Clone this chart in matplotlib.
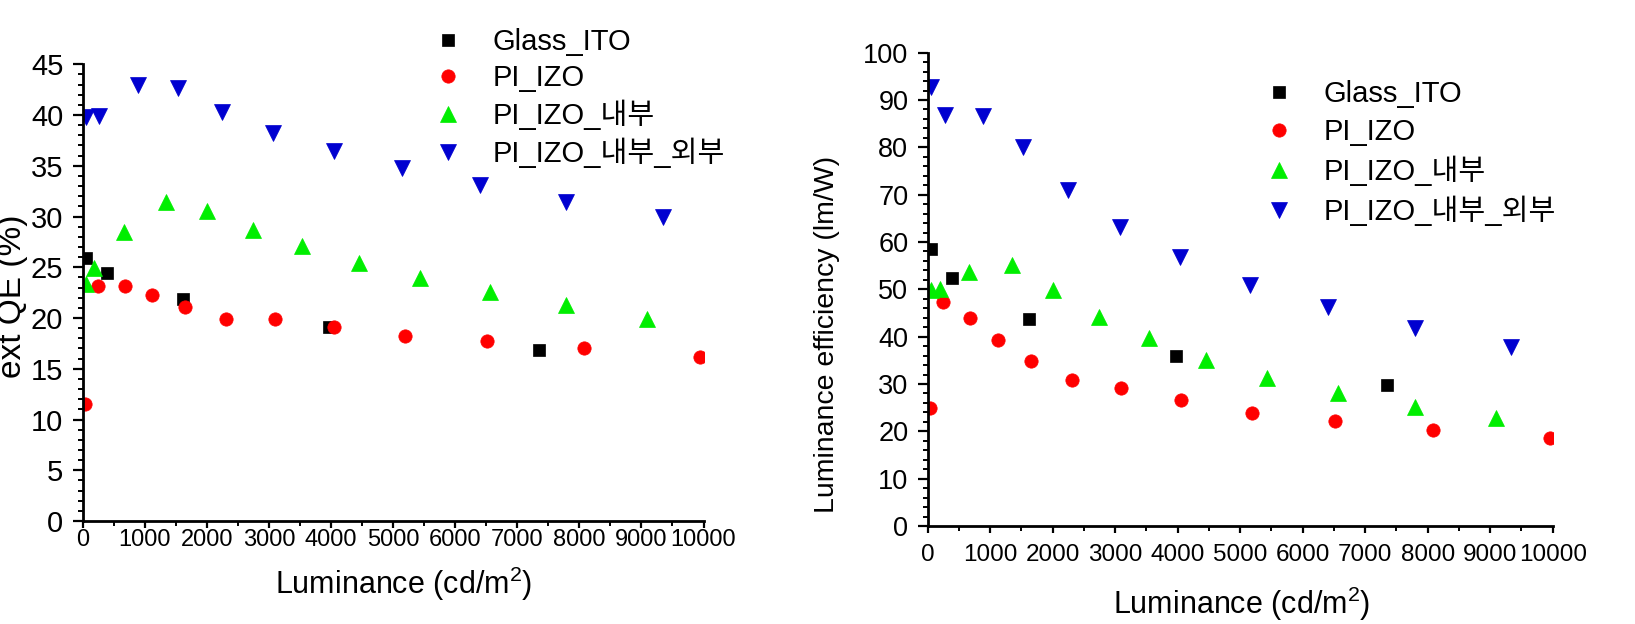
import matplotlib
matplotlib.use("Agg")
import matplotlib.pyplot as plt
from matplotlib.ticker import MultipleLocator

plt.rcParams['font.family'] = ['Liberation Sans', 'Noto Sans CJK KR', 'DejaVu Sans']
plt.rcParams['mathtext.fontset'] = 'custom'
plt.rcParams['mathtext.rm'] = 'Liberation Sans'
plt.rcParams['mathtext.it'] = 'Liberation Sans'

labels = ['Glass_ITO', 'PI_IZO', 'PI_IZO_내부', 'PI_IZO_내부_외부']
colors = ['#000000', '#ff0000', '#00ee00', '#0000d0']
markers = ['s', 'o', '^', 'v']
msizes = [9.0, 9.6, 11.5, 11.5]

lum_glass = [50, 390, 1620, 3970, 7350]
lum_pi = [40, 245, 677, 1120, 1650, 2310, 3100, 4050, 5185, 6520, 8080, 9950]
lum_in = [50, 190, 665, 1345, 2010, 2740, 3540, 4450, 5430, 6565, 7790, 9090]
lum_out = [50, 270, 890, 1530, 2250, 3070, 4040, 5150, 6400, 7790, 9340]

eqe_glass = [25.9, 24.4, 21.9, 19.15, 16.85]
eqe_pi = [11.5, 23.2, 23.15, 22.3, 21.1, 19.9, 19.87, 19.14, 18.26, 17.73, 17.0, 16.19]
eqe_in = [23.4, 24.9, 28.5, 31.4, 30.5, 28.7, 27.1, 25.45, 23.97, 22.6, 21.3, 19.87]
eqe_out = [39.8, 39.9, 42.96, 42.7, 40.3, 38.2, 36.45, 34.75, 33.1, 31.4, 29.98]

le_glass = [58.5, 52.5, 43.7, 36.0, 29.8]
le_pi = [24.9, 47.4, 43.9, 39.3, 34.9, 30.85, 29.1, 26.6, 23.9, 22.2, 20.3, 18.5]
le_in = [49.9, 50.0, 53.7, 55.1, 49.9, 44.1, 39.7, 35.1, 31.2, 28.2, 25.2, 22.75]
le_out = [92.8, 86.8, 86.6, 80.1, 71.0, 63.2, 56.8, 50.9, 46.2, 41.8, 37.9]

xs = [lum_glass, lum_pi, lum_in, lum_out]
eqe = [eqe_glass, eqe_pi, eqe_in, eqe_out]
le = [le_glass, le_pi, le_in, le_out]

W, H = 1635, 624
fig = plt.figure(figsize=(W / 100, H / 100), dpi=100)

ax1 = fig.add_axes([82.7 / W, 1 - 521 / H, 620.8 / W, 456.7 / H])
ax2 = fig.add_axes([927.7 / W, 1 - 526 / H, 625 / W, 473.3 / H])


def style(ax, ymax, ymaj, ymin, xfs, yfs, xpad, ypad):
    for s in ['top', 'right']:
        ax.spines[s].set_visible(False)
    for s in ['left', 'bottom']:
        ax.spines[s].set_linewidth(2.0)
    ax.set_xlim(0, 10000)
    ax.set_ylim(0, ymax)
    ax.xaxis.set_major_locator(MultipleLocator(1000))
    ax.xaxis.set_minor_locator(MultipleLocator(500))
    ax.yaxis.set_major_locator(MultipleLocator(ymaj))
    ax.yaxis.set_minor_locator(MultipleLocator(ymin))
    ax.tick_params(axis='x', which='major', direction='out', length=5, width=1.6,
                   labelsize=xfs, pad=xpad)
    ax.tick_params(axis='x', which='minor', direction='out', length=3.5, width=1.4)
    ax.tick_params(axis='y', which='major', direction='out', length=7, width=1.6,
                   labelsize=yfs, pad=ypad)
    ax.tick_params(axis='y', which='minor', direction='out', length=3.5, width=1.4)
    ax.patch.set_alpha(0)


style(ax1, 45, 5, 1, 17, 21, 1, 7)
style(ax2, 100, 10, 2, 17.5, 19.5, 8, 7)

for x, y, lab, c, m, ms in zip(xs, eqe, labels, colors, markers, msizes):
    ax1.plot(x, y, ls='none', marker=m, ms=ms, color=c, mec=c, mew=0.5, label=lab)
for x, y, lab, c, m, ms in zip(xs, le, labels, colors, markers, msizes):
    ax2.plot(x, y, ls='none', marker=m, ms=ms, color=c, mec=c, mew=0.5, label=lab)

leg_kw = dict(frameon=False, loc='center left', borderpad=0, borderaxespad=0,
              handlelength=1.0, handletextpad=1.05,
              fontsize=21, bbox_transform=fig.transFigure)
ax1.legend(bbox_to_anchor=(433 / W, 1 - 98 / H), labelspacing=0.26, **leg_kw)
ax2.legend(bbox_to_anchor=(1264 / W, 1 - 153 / H), labelspacing=0.33, **leg_kw)

fig.text(13 / W, 1 - 296 / H, 'ext QE (%)', rotation=90, ha='center', va='center',
         fontsize=24)
fig.text(827 / W, 1 - 334 / H, 'Luminance efficiency (lm/W)', rotation=90,
         ha='center', va='center', fontsize=20.5)
fig.text(403.5 / W, 1 - 584 / H, r'Luminance (cd/m$^2$)', ha='center', va='center',
         fontsize=22)
fig.text(1241.5 / W, 1 - 604 / H, r'Luminance (cd/m$^2$)', ha='center', va='center',
         fontsize=22)

fig.savefig('out.png', dpi=100)
